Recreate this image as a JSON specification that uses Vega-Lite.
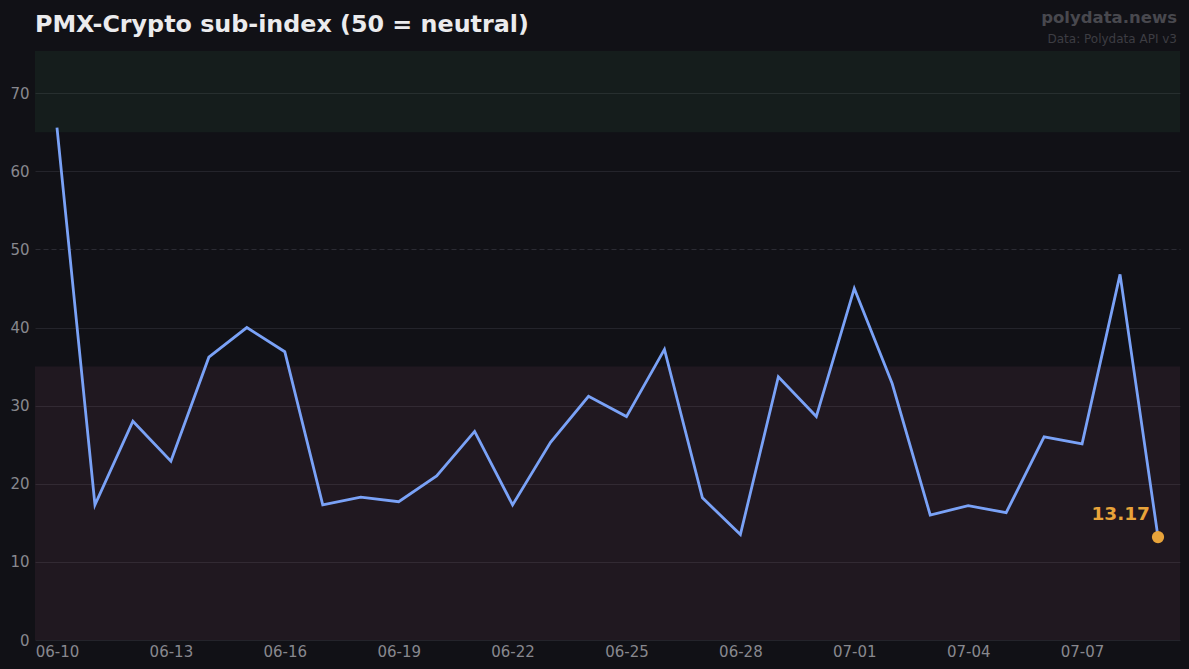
{
  "$schema": "https://vega.github.io/schema/vega-lite/v6.json",
  "width": 1145,
  "height": 589,
  "autosize": {"type": "none"},
  "padding": {"left": 35, "top": 51, "right": 9, "bottom": 29},
  "background": "#111116",
  "title": {
    "text": "PMX-Crypto sub-index (50 = neutral)",
    "anchor": "start",
    "frame": "group",
    "offset": -27,
    "font": "DejaVu Sans",
    "fontSize": 23.8,
    "fontWeight": "bold",
    "color": "#ebebed"
  },
  "config": {
    "view": {"stroke": null},
    "font": "DejaVu Sans",
    "axis": {
      "domain": false,
      "ticks": false,
      "labelColor": "#88888e",
      "labelFontSize": 15,
      "labelFont": "DejaVu Sans",
      "gridColor": "#24242b",
      "gridWidth": 1,
      "title": null
    }
  },
  "datasets": {
    "series": [
      {"date": "2025-06-10", "value": 65.6},
      {"date": "2025-06-11", "value": 17.3},
      {"date": "2025-06-12", "value": 28.0},
      {"date": "2025-06-13", "value": 22.9},
      {"date": "2025-06-14", "value": 36.2},
      {"date": "2025-06-15", "value": 40.0},
      {"date": "2025-06-16", "value": 36.9},
      {"date": "2025-06-17", "value": 17.3},
      {"date": "2025-06-18", "value": 18.3},
      {"date": "2025-06-19", "value": 17.7},
      {"date": "2025-06-20", "value": 21.0},
      {"date": "2025-06-21", "value": 26.7},
      {"date": "2025-06-22", "value": 17.3},
      {"date": "2025-06-23", "value": 25.3},
      {"date": "2025-06-24", "value": 31.2},
      {"date": "2025-06-25", "value": 28.6},
      {"date": "2025-06-26", "value": 37.2},
      {"date": "2025-06-27", "value": 18.2},
      {"date": "2025-06-28", "value": 13.5},
      {"date": "2025-06-29", "value": 33.7},
      {"date": "2025-06-30", "value": 28.6},
      {"date": "2025-07-01", "value": 45.0},
      {"date": "2025-07-02", "value": 32.8},
      {"date": "2025-07-03", "value": 16.0},
      {"date": "2025-07-04", "value": 17.2},
      {"date": "2025-07-05", "value": 16.3},
      {"date": "2025-07-06", "value": 26.0},
      {"date": "2025-07-07", "value": 25.1},
      {"date": "2025-07-08", "value": 46.8},
      {"date": "2025-07-09", "value": 13.17}
    ],
    "bands": [
      {"lo": 65, "hi": 75.4, "zone": "high"},
      {"lo": 0, "hi": 35, "zone": "low"}
    ],
    "last": [
      {"date": "2025-07-09", "value": 13.17, "label": "13.17"}
    ]
  },
  "layer": [
    {
      "data": {"name": "bands"},
      "mark": {"type": "rect", "opacity": 0.08},
      "encoding": {
        "y": {
          "field": "lo",
          "type": "quantitative",
          "scale": {"domain": [0, 75.4], "nice": false},
          "axis": {
            "values": [0, 10, 20, 30, 40, 50, 60, 70],
            "labelPadding": 6,
            "gridDash": {"condition": {"test": "datum.value === 50", "value": [5, 3]}, "value": []},
            "gridColor": {"condition": {"test": "datum.value === 50", "value": "#2c2c34"}, "value": "#24242b"}
          }
        },
        "y2": {"field": "hi"},
        "color": {
          "field": "zone",
          "type": "nominal",
          "scale": {"domain": ["high", "low"], "range": ["#4fb361", "#d97593"]},
          "legend": null
        }
      }
    },
    {
      "data": {"name": "series"},
      "mark": {"type": "line", "color": "#7aa2f7", "strokeWidth": 2.8},
      "encoding": {
        "x": {
          "field": "date",
          "type": "temporal",
          "scale": {"type": "utc", "domain": ["2025-06-09T10:06:00Z", "2025-07-09T13:54:00Z"], "nice": false},
          "axis": {"format": "%m-%d", "tickCount": {"interval": "day", "step": 3}, "grid": false, "labelPadding": 4}
        },
        "y": {"field": "value", "type": "quantitative"}
      }
    },
    {
      "data": {"name": "last"},
      "mark": {"type": "point", "filled": true, "opacity": 1, "color": "#e8a33a", "size": 150},
      "encoding": {
        "x": {"field": "date", "type": "temporal"},
        "y": {"field": "value", "type": "quantitative"}
      }
    },
    {
      "data": {"name": "last"},
      "mark": {"type": "text", "color": "#e8a33a", "fontSize": 18.5, "fontWeight": "bold", "align": "right", "dx": -8, "dy": -23},
      "encoding": {
        "x": {"field": "date", "type": "temporal"},
        "y": {"field": "value", "type": "quantitative"},
        "text": {"field": "label"}
      }
    },
    {
      "data": {"values": [{"text": "polydata.news", "level": 79.0}]},
      "mark": {"type": "text", "align": "right", "baseline": "alphabetic", "clip": false, "dx": -3, "fontSize": 16.5, "fontWeight": "bold", "color": "#48484e"},
      "encoding": {
        "x": {"value": "width"},
        "y": {"field": "level", "type": "quantitative"},
        "text": {"field": "text"}
      }
    },
    {
      "data": {"values": [{"text": "Data: Polydata API v3", "level": 76.4}]},
      "mark": {"type": "text", "align": "right", "baseline": "alphabetic", "clip": false, "dx": -3, "fontSize": 12, "color": "#3d3d43"},
      "encoding": {
        "x": {"value": "width"},
        "y": {"field": "level", "type": "quantitative"},
        "text": {"field": "text"}
      }
    }
  ]
}
